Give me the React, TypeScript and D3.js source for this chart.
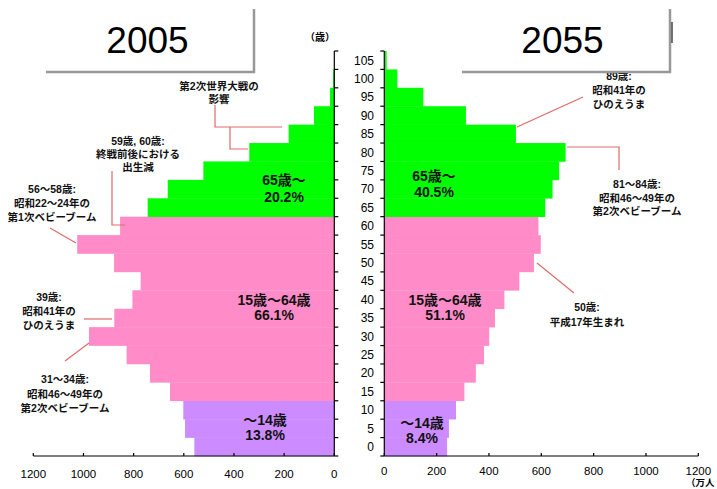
import React from 'react';
import * as d3 from 'd3';

// 5-year age groups (lower bound), population in 10,000s (万人)
const ageGroups = [0, 5, 10, 15, 20, 25, 30, 35, 40, 45, 50, 55, 60, 65, 70, 75, 80, 85, 90, 95, 100, 105];
const pop2005 = [558, 595, 602, 655, 735, 828, 978, 877, 805, 772, 878, 1025, 854, 744, 664, 522, 339, 182, 81, 17, 5, 1];
const pop2055 = [240, 247, 274, 306, 350, 381, 401, 423, 459, 516, 572, 598, 589, 615, 643, 668, 693, 503, 312, 149, 50, 9];

const xTicks = [0, 200, 400, 600, 800, 1000, 1200];
const ageTicks = d3.range(0, 111, 5);
const ageLabels = d3.range(0, 106, 5);

const groupLabels2005 = [["65歳〜", "20.2%"], ["15歳〜64歳", "66.1%"], ["〜14歳", "13.8%"]];
const groupLabels2055 = [["65歳〜", "40.5%"], ["15歳〜64歳", "51.1%"], ["〜14歳", "8.4%"]];

const FONT = "'Liberation Sans', Arial, 'Noto Sans CJK JP', sans-serif";
const LEADER = '#e06a6a';

const colorFor = (age: number) => (age < 15 ? '#cc8cff' : age < 65 ? '#ff8cc8' : '#00ff00');

const MultiLine = ({ lines, cx, centers, size, weight = 'bold' }: any) => (
  <g>
    {lines.map((l: string, i: number) => (
      <text key={i} x={cx} y={centers[i] + size * 0.36} textAnchor="middle"
        fontSize={size} fontWeight={weight} fontFamily={FONT} fill="#111">{l}</text>
    ))}
  </g>
);

export default function App() {
  const y = d3.scaleLinear().domain([0, 110]).range([456, 51]);
  const xL = d3.scaleLinear().domain([0, 1200]).range([334.3, 33.3]);
  const xR = d3.scaleLinear().domain([0, 1200]).range([384.3, 698.3]);
  const band = y(0) - y(5);

  return (
    <svg width={717} height={489} style={{ position: 'fixed', left: 0, top: 0, background: '#fff' }}>
      {/* bars 2005 */}
      {ageGroups.map((a, i) => (
        <rect key={'l' + a} x={xL(pop2005[i])} y={y(a + 5)} width={xL(0) - xL(pop2005[i])}
          height={band + 0.3} fill={colorFor(a)} />
      ))}
      {/* bars 2055 */}
      {ageGroups.map((a, i) => (
        <rect key={'r' + a} x={xR(0)} y={y(a + 5)} width={xR(pop2055[i]) - xR(0)}
          height={band + 0.3} fill={colorFor(a)} />
      ))}

      {/* axes */}
      <g stroke="#000" strokeWidth={1.2} fill="none">
        <line x1={xL(0)} x2={xL(0)} y1={y(110)} y2={y(0)} />
        <line x1={xR(0)} x2={xR(0)} y1={y(110)} y2={y(0)} />
        <line x1={xL(1200)} x2={xL(0)} y1={y(0)} y2={y(0)} />
        <line x1={xR(0)} x2={xR(1200)} y1={y(0)} y2={y(0)} />
        {ageTicks.map(t => (
          <g key={'t' + t}>
            <line x1={xL(0)} x2={xL(0) + 4} y1={y(t)} y2={y(t)} />
            <line x1={xR(0)} x2={xR(0) - 4} y1={y(t)} y2={y(t)} />
          </g>
        ))}
        {xTicks.map(t => (
          <g key={'x' + t}>
            <line x1={xL(t)} x2={xL(t)} y1={y(0)} y2={y(0) - 3} />
            <line x1={xR(t)} x2={xR(t)} y1={y(0)} y2={y(0) - 3} />
          </g>
        ))}
      </g>
      <g fontFamily={FONT} fontSize={12} fill="#000">
        {ageLabels.map(a => (
          <text key={'a' + a} x={374} y={y(a + 2.5) + 4.3} textAnchor="end">{a}</text>
        ))}
        {xTicks.map(t => (
          <g key={'xl' + t}>
            <text x={xL(t)} y={478} textAnchor="middle" fontSize={11.5}>{t}</text>
            <text x={xR(t)} y={475} textAnchor="middle" fontSize={11.5}>{t}</text>
          </g>
        ))}
      </g>
      <text x={320} y={41} textAnchor="middle" fontSize={10} fontWeight="bold" fontFamily={FONT}>（歳）</text>
      <text x={686} y={486} fontSize={9.5} fontWeight="bold" fontFamily={FONT}>（万人</text>

      {/* group labels */}
      <MultiLine lines={groupLabels2005[0]} cx={284} centers={[180, 197]} size={14} />
      <MultiLine lines={groupLabels2005[1]} cx={274} centers={[300, 315]} size={14} />
      <MultiLine lines={groupLabels2005[2]} cx={265} centers={[420, 435]} size={14} />
      <MultiLine lines={groupLabels2055[0]} cx={434} centers={[176, 192]} size={14} />
      <MultiLine lines={groupLabels2055[1]} cx={445} centers={[300, 315]} size={14} />
      <MultiLine lines={groupLabels2055[2]} cx={422} centers={[423, 438]} size={14} />

      {/* leaders */}
      <g stroke={LEADER} strokeWidth={1.2} fill="none">
        <path d="M215,105 V127 H282 M230,127 V149 H248" />
        <path d="M112,171 V225 H125" />
        <path d="M50,228 L76,243" />
        <path d="M84,319 H112" />
        <path d="M65,361 L89,343" />
        <path d="M583,97 L517,127" />
        <path d="M567,147 H619 V170" />
        <path d="M537,263 L574,293" />
      </g>

      {/* annotations */}
      <MultiLine lines={["第2次世界大戦の", "影響"]} cx={219} centers={[86, 99]} size={10.5} />
      <MultiLine lines={["59歳, 60歳:", "終戦前後における", "出生減"]} cx={138} centers={[141, 154, 167]} size={10.5} />
      <MultiLine lines={["56〜58歳:", "昭和22〜24年の", "第1次ベビーブーム"]} cx={52} centers={[189, 203, 217]} size={10.5} />
      <MultiLine lines={["39歳:", "昭和41年の", "ひのえうま"]} cx={49} centers={[297, 311, 325]} size={10.5} />
      <MultiLine lines={["31〜34歳:", "昭和46〜49年の", "第2次ベビーブーム"]} cx={65} centers={[379, 394, 408]} size={10.5} />
      <MultiLine lines={["89歳:", "昭和41年の", "ひのえうま"]} cx={619} centers={[76, 90, 104]} size={10.5} />
      <MultiLine lines={["81〜84歳:", "昭和46〜49年の", "第2次ベビーブーム"]} cx={637} centers={[184, 198, 211]} size={10.5} />
      <MultiLine lines={["50歳:", "平成17年生まれ"]} cx={587} centers={[307, 322]} size={10.5} />

      {/* title boxes */}
      <rect x={46} y={0} width={208} height={72} fill="#fff" />
      <path d="M46,72 H254 V9" stroke="#999" strokeWidth={2.5} fill="none" />
      <text x={147.5} y={53} textAnchor="middle" fontSize={37} fontFamily={FONT}>2005</text>
      <rect x={462} y={0} width={208} height={72} fill="#fff" />
      <path d="M462,72 H670 V9" stroke="#999" strokeWidth={2.5} fill="none" />
      <line x1={672} x2={672} y1={22} y2={43} stroke="#444" strokeWidth={1.5} />
      <text x={562.5} y={53} textAnchor="middle" fontSize={37} fontFamily={FONT}>2055</text>
    </svg>
  );
}
